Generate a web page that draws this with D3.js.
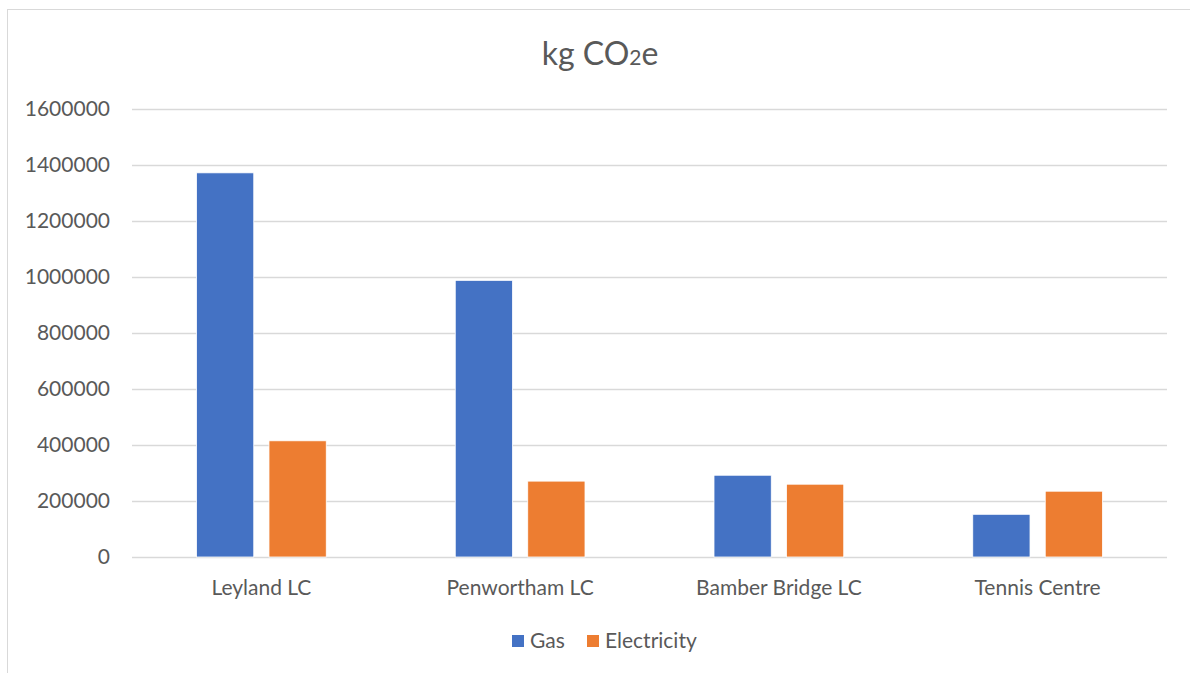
<!DOCTYPE html>
<html>
<head>
<meta charset="utf-8">
<script src="https://cdn.jsdelivr.net/npm/d3@7"></script>
<style>
  body { margin: 0; background: #fff; }
  text { font-family: Lato, "Open Sans", sans-serif; fill: #595959; }
</style>
</head>
<body>
<svg width="1190" height="673"></svg>
<script>
// chart data
var categories = ["Leyland LC", "Penwortham LC", "Bamber Bridge LC", "Tennis Centre"];
var seriesNames = ["Gas", "Electricity"];
var gasValues = [1372000, 988000, 292000, 152500];
var electricityValues = [415000, 271000, 260000, 235000];
var yTicks = [0, 200000, 400000, 600000, 800000, 1000000, 1200000, 1400000, 1600000];

var svg = d3.select("svg");
var margin = {top: 109, right: 23, bottom: 116, left: 132},
    width = +svg.attr("width") - margin.left - margin.right,
    height = +svg.attr("height") - margin.top - margin.bottom;

var color = d3.scaleOrdinal()
    .domain(seriesNames)
    .range(["#4472c4", "#ed7d31"]);

// chart border (runs off the right and bottom edges)
svg.append("rect")
    .attr("x", 7.5).attr("y", 9.5)
    .attr("width", 1200).attr("height", 700)
    .attr("fill", "none")
    .attr("stroke", "#d9d9d9")
    .attr("stroke-width", 1);

// title
var title = svg.append("text")
    .attr("x", 600)
    .attr("y", 65)
    .attr("text-anchor", "middle")
    .style("font-size", "32px");
title.append("tspan").text("kg CO");
title.append("tspan").style("font-size", "21px").text("2");
title.append("tspan").text("e");

var g = svg.append("g")
    .attr("transform", "translate(" + margin.left + "," + margin.top + ")");

var x0 = d3.scaleBand()
    .domain(categories)
    .range([0, width])
    .padding(0);

var x1 = d3.scaleBand()
    .domain(seriesNames)
    .range([64.5, x0.bandwidth() - 64.5])
    .paddingInner(0.21)
    .paddingOuter(0);

var y = d3.scaleLinear()
    .domain([0, 1600000])
    .range([height, 0]);

// gridlines
g.selectAll(".grid")
    .data(yTicks)
    .enter().append("line")
    .attr("class", "grid")
    .attr("x1", 0).attr("x2", width)
    .attr("y1", function(d) { return Math.round(y(d)) + 0.5; })
    .attr("y2", function(d) { return Math.round(y(d)) + 0.5; })
    .attr("stroke", "#d9d9d9")
    .attr("stroke-width", 1.3);

// y labels
var yAxis = d3.axisLeft(y).tickValues(yTicks).tickFormat(d3.format("d")).tickSize(0).tickPadding(22);
g.append("g")
    .attr("class", "y axis")
    .call(yAxis)
    .call(function(a) { a.select(".domain").remove(); })
    .selectAll("text")
    .style("font-size", "21px")
    .attr("fill", "#595959");

// x labels
var xAxis = d3.axisBottom(x0).tickSize(0).tickPadding(23);
g.append("g")
    .attr("class", "x axis")
    .attr("transform", "translate(0," + height + ")")
    .call(xAxis)
    .call(function(a) { a.select(".domain").remove(); })
    .selectAll("text")
    .style("font-size", "21px")
    .attr("fill", "#595959");

// bars
var data = categories.map(function(c, i) {
    return {cat: c, values: [
        {stat: "Gas", value: gasValues[i]},
        {stat: "Electricity", value: electricityValues[i]}
    ]};
});

var slice = g.selectAll(".slice")
    .data(data)
    .enter().append("g")
    .attr("class", "slice")
    .attr("transform", function(d) { return "translate(" + x0(d.cat) + ",0)"; });

slice.selectAll("rect")
    .data(function(d) { return d.values; })
    .enter().append("rect")
    .attr("x", function(d) { return x1(d.stat); })
    .attr("width", x1.bandwidth())
    .attr("y", function(d) { return y(d.value); })
    .attr("height", function(d) { return height - y(d.value); })
    .attr("fill", function(d) { return color(d.stat); })
    .attr("stroke", "#fff")
    .attr("stroke-width", 0.8);

// legend
var legendX = [512, 587];
var legend = svg.selectAll(".legend")
    .data(seriesNames)
    .enter().append("g")
    .attr("class", "legend")
    .attr("transform", function(d, i) { return "translate(" + legendX[i] + ",635)"; });

legend.append("rect")
    .attr("width", 12).attr("height", 12)
    .attr("fill", function(d) { return color(d); });

legend.append("text")
    .attr("x", 18)
    .attr("y", 13)
    .style("font-size", "21px")
    .text(function(d) { return d; });
</script>
</body>
</html>
